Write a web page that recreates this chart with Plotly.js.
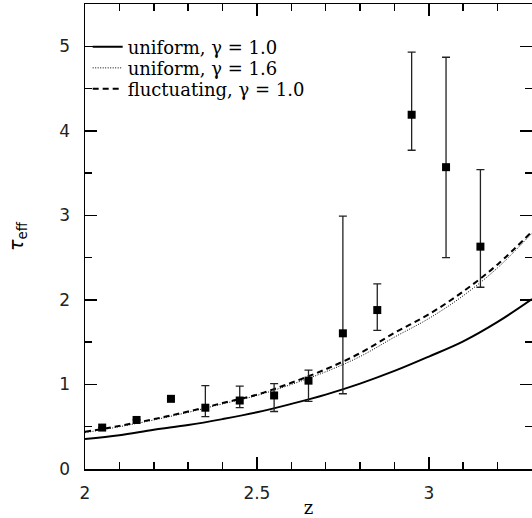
<!DOCTYPE html>
<html>
<head>
<meta charset="utf-8">
<script src="https://cdn.plot.ly/plotly-3.0.1.min.js"></script>
<style>html,body{margin:0;padding:0;background:#fff;}#plot{width:532px;height:518px;}</style>
</head>
<body>
<div id="plot"></div>
<script>
// model curves (redshift grid)
var zModel = [2.0, 2.1, 2.2, 2.3, 2.4, 2.5, 2.6, 2.7, 2.8, 2.9, 3.0, 3.1, 3.2, 3.3];
var tauUniform10 = [0.355, 0.40, 0.465, 0.52, 0.59, 0.67, 0.77, 0.88, 1.01, 1.16, 1.33, 1.51, 1.74, 2.01];
var tauUniform16 = [0.43, 0.50, 0.58, 0.67, 0.77, 0.87, 1.00, 1.15, 1.33, 1.56, 1.78, 2.05, 2.38, 2.79];
var tauFluct10   = [0.44, 0.51, 0.59, 0.68, 0.78, 0.88, 1.02, 1.18, 1.37, 1.61, 1.83, 2.10, 2.42, 2.81];

// observed points
var zObs   = [2.05, 2.15, 2.25, 2.35, 2.45, 2.55, 2.65, 2.75, 2.85, 2.95, 3.05, 3.15];
var tauObs = [0.49, 0.58, 0.83, 0.725, 0.81, 0.87, 1.045, 1.605, 1.88, 4.19, 3.57, 2.63];
var tauHi  = [null, null, null, 0.985, 0.98, 1.01, 1.17, 2.99, 2.19, 4.93, 4.87, 3.54];
var tauLo  = [null, null, null, 0.62, 0.725, 0.68, 0.80, 0.89, 1.64, 3.77, 2.50, 2.15];

var legendNames = ['uniform, \u03b3 = 1.0', 'uniform, \u03b3 = 1.6', 'fluctuating, \u03b3 = 1.0'];

var errPlus = tauObs.map(function (v, i) { return tauHi[i] === null ? null : tauHi[i] - v; });
var errMinus = tauObs.map(function (v, i) { return tauLo[i] === null ? null : v - tauLo[i]; });

var traces = [
  {x: zModel, y: tauUniform10, mode: 'lines', name: legendNames[0], legend: 'legend',
   line: {color: '#000', width: 2, dash: 'solid', shape: 'spline'}},
  {x: zModel, y: tauUniform16, mode: 'lines', name: legendNames[1], legend: 'legend2',
   line: {color: '#000', width: 1, dash: '1px,1.5px', shape: 'spline'}},
  {x: zModel, y: tauFluct10, mode: 'lines', name: legendNames[2], legend: 'legend3',
   line: {color: '#000', width: 2, dash: '6px,4px', shape: 'spline'}},
  {x: zObs, y: tauObs, mode: 'markers', showlegend: false,
   marker: {symbol: 'square', size: 8, color: '#000'},
   error_y: {type: 'data', symmetric: false, array: errPlus, arrayminus: errMinus,
             color: '#222', thickness: 1.3, width: 4}}
];

var tickFont = {family: 'DejaVu Sans, sans-serif', size: 17, color: '#222'};
var legFont = {family: 'DejaVu Serif, serif', size: 18, color: '#000'};
function leg(yc) {
  return {x: 0.006, y: yc, xanchor: 'left', yanchor: 'middle', bgcolor: 'rgba(0,0,0,0)',
          itemwidth: 30, font: legFont, borderwidth: 0};
}

var layout = {
  width: 532, height: 518,
  margin: {l: 85, r: 0, t: 4, b: 49},
  paper_bgcolor: '#fff', plot_bgcolor: '#fff',
  showlegend: true,
  legend: leg(0.9075),
  legend2: leg(0.862),
  legend3: leg(0.817),
  xaxis: {range: [2, 3.3], dtick: 0.5, tick0: 2, ticks: 'inside', ticklen: 12, tickwidth: 1.5,
          tickcolor: '#000', showline: true, linecolor: '#000', linewidth: 1.5, mirror: 'ticks',
          showgrid: false, zeroline: false, tickfont: tickFont, ticklabelstandoff: 8,
          minor: {dtick: 0.1, ticks: 'inside', ticklen: 7, tickwidth: 1.5, tickcolor: '#000', showgrid: false},
          title: {text: 'z', font: {family: 'DejaVu Serif, serif', size: 18, color: '#000'}, standoff: 8}},
  yaxis: {range: [0, 5.5], dtick: 1, tick0: 0, ticks: 'inside', ticklen: 12, tickwidth: 1.5,
          tickcolor: '#000', showline: true, linecolor: '#000', linewidth: 1.5, mirror: 'ticks',
          showgrid: false, zeroline: false, tickfont: tickFont, ticklabelstandoff: 10,
          minor: {dtick: 0.5, ticks: 'inside', ticklen: 7, tickwidth: 1.5, tickcolor: '#000', showgrid: false},
          title: {text: '<i>\u03c4</i><sub>eff</sub>', font: {family: 'DejaVu Sans, sans-serif', size: 19, color: '#000'}, standoff: 30}}
};

Plotly.newPlot('plot', traces, layout, {displayModeBar: false, staticPlot: true});
</script>
</body>
</html>
